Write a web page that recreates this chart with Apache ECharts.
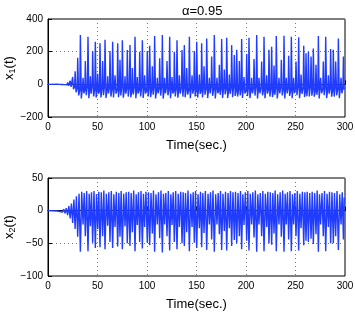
<!DOCTYPE html>
<html>
<head>
<meta charset="utf-8">
<script src="https://cdn.jsdelivr.net/npm/echarts@6/dist/echarts.min.js"></script>
<style>
html, body {margin: 0; padding: 0; background: #fff;}
#main {width: 355px; height: 313px;}
</style>
</head>
<body>
<div id="main"></div>
<script>
// time of each x1 peak (= time of each x2 low)
var peakTimes = [
    9.4, 12.0, 14.6, 17.2, 19.8, 22.4, 24.9, 27.4, 30.0,
    32.7, 35.4, 37.7, 40.4, 42.8, 45.1, 47.8, 50.2, 52.5, 55.2,
    57.6, 60.3, 62.6, 65.3, 67.7, 70.4, 72.7, 75.1, 77.8, 80.1,
    82.8, 85.2, 87.9, 90.2, 92.6, 95.3, 97.6, 100.3, 102.7, 105.4,
    107.7, 110.4, 112.8, 115.5, 117.8, 120.2, 122.9, 125.3, 127.6, 130.3,
    132.7, 135.4, 137.7, 140.1, 142.8, 145.5, 147.8, 150.2, 152.9, 155.2,
    157.6, 160.3, 163.0, 165.3, 168.0, 170.7, 173.1, 175.4, 178.1, 180.5,
    183.2, 185.5, 188.2, 190.6, 193.3, 195.6, 198.0, 200.7, 203.0, 205.7,
    208.1, 210.8, 213.1, 215.8, 218.2, 220.9, 223.2, 225.9, 228.3, 230.6,
    233.3, 235.7, 238.4, 240.7, 243.1, 245.8, 248.1, 250.5, 253.2, 255.6,
    258.3, 260.6, 263.0, 265.7, 268.0, 270.7, 273.1, 275.4, 278.1, 280.5,
    283.2, 285.5, 288.2, 290.6, 293.3, 296.0, 298.4
];
var x1Peaks = [
    1, 2, 4, 7, 12, 22, 45, 80, 163,
    302, 40, 143, 292, 50, 204, 261, 65, 251, 143,
    273, 50, 204, 261, 55, 251, 150, 270, 50, 210,
    240, 100, 292, 45, 200, 270, 55, 204, 236, 110,
    296, 40, 160, 302, 40, 143, 292, 45, 200, 270,
    55, 210, 240, 100, 292, 55, 204, 261, 60, 251,
    110, 280, 40, 170, 302, 40, 120, 277, 90, 285,
    60, 240, 180, 212, 143, 277, 45, 185, 285, 40,
    155, 302, 40, 140, 292, 55, 212, 230, 115, 296,
    40, 150, 298, 40, 175, 292, 40, 140, 288, 60,
    236, 190, 200, 170, 220, 120, 296, 40, 140, 292,
    55, 216, 212, 140, 280, 40, 170
];
// lowest point after each peak
var x1Troughs = [
    -1, -2, -3, -5, -9, -16, -30, -48, -68,
    -86, -55, -67, -85, -57, -74, -81, -58, -80, -67,
    -83, -56, -75, -81, -57, -79, -68, -82, -57, -75,
    -79, -62, -85, -56, -74, -83, -57, -74, -78, -63,
    -86, -55, -69, -87, -55, -67, -85, -56, -74, -82,
    -57, -75, -79, -62, -85, -57, -74, -81, -58, -80,
    -63, -84, -55, -70, -86, -55, -64, -83, -61, -84,
    -58, -79, -71, -75, -67, -83, -56, -72, -84, -55,
    -69, -86, -55, -67, -85, -57, -75, -78, -64, -86,
    -55, -68, -86, -55, -71, -85, -55, -67, -85, -58,
    -78, -73, -74, -70, -76, -64, -86, -55, -67, -85,
    -57, -76, -75, -67, -84, -55, -30
];
// level the signal recovers to before the next peak
var x1Rise = [
    -0.5, -1, -1.5, -2.5, -4, -8, -15, -25, -35,
    -20, -35, -10, -25, -5, -30, -15, -40, -20, -10,
    -30, -15, -25, -5, -35, -20, -10, -30, -20, -15,
    -40, -10, -25, -30, -5, -20, -35, -15, -25, -10,
    -30, -20, -5, -35, -15, -25, -10, -40, -20, -30,
    -15, -5, -25, -35, -10, -20, -30, -15, -40, -10,
    -25, -20, -5, -30, -15, -35, -20, -10, -25, -30,
    -15, -5, -40, -20, -25, -10, -35, -15, -30, -20,
    -5, -25, -15, -35, -10, -30, -20, -40, -15, -25,
    -10, -30, -5, -20, -35, -15, -25, -10, -30, -20,
    -40, -15, -5, -25, -35, -20, -10, -30, -15, -25,
    -20, -35, -10, -30, -15, -25, -20
];
var x2Lows = [
    -0.6, -1.2, -2.2, -4, -7, -12, -19, -28, -40,
    -63, -21, -39, -62, -24, -49, -57, -28, -56, -39,
    -59, -23, -48, -57, -25, -55, -40, -59, -24, -50,
    -54, -33, -62, -22, -48, -58, -25, -49, -53, -35,
    -63, -21, -42, -64, -21, -39, -61, -22, -48, -59,
    -25, -50, -54, -33, -62, -25, -49, -57, -27, -56,
    -34, -60, -21, -44, -63, -21, -36, -60, -31, -61,
    -27, -54, -45, -50, -39, -59, -22, -46, -61, -21,
    -41, -63, -21, -39, -62, -25, -50, -52, -35, -62,
    -21, -40, -63, -21, -44, -62, -21, -39, -61, -27,
    -53, -46, -48, -43, -51, -36, -63, -21, -39, -62,
    -25, -50, -50, -39, -60, -21, -44
];
var x2Highs = [
    0.6, 1.2, 2.2, 4, 7, 11, 17, 22, 26,
    29, 27, 30, 26, 28, 30, 25, 29, 28, 31,
    26, 28, 30, 25, 29, 27, 30, 26, 28, 29,
    27, 31, 25, 28, 30, 26, 29, 28, 27, 31,
    25, 28, 31, 26, 27, 30, 25, 28, 30, 26,
    29, 28, 27, 31, 26, 28, 30, 25, 29, 27,
    30, 26, 28, 31, 25, 27, 30, 26, 29, 27,
    30, 28, 29, 27, 30, 25, 28, 30, 26, 28,
    31, 25, 27, 30, 26, 29, 28, 27, 31, 25,
    28, 31, 26, 28, 30, 25, 27, 30, 26, 29,
    28, 29, 27, 29, 27, 31, 25, 27, 30, 26,
    29, 28, 27, 30, 25, 28, 20
];
var timeTicks = [0, 50, 100, 150, 200, 250, 300];
var x1Ticks = [-200, 0, 200, 400];
var x2Ticks = [-100, -50, 0, 50];

var tEnd = timeTicks[timeTicks.length - 1];
function gapAfter(i) {
    return (i + 1 < peakTimes.length ? peakTimes[i + 1] : tEnd) - peakTimes[i];
}

// x1: sharp spike, quick drop to the trough, slow recovery before the next spike
function x1Line() {
    var pts = [[0, 0]];
    for (var i = 0; i < peakTimes.length; i++) {
        var t = peakTimes[i], g = gapAfter(i);
        pts.push([t, x1Peaks[i]]);
        pts.push([t + g * 0.35, x1Troughs[i]]);
        pts.push([t + g * 0.8, x1Rise[i]]);
    }
    return pts;
}
// x2: low at each x1 peak, high half way to the next one
function x2Line() {
    var pts = [[0, 0]];
    for (var i = 0; i < peakTimes.length; i++) {
        var t = peakTimes[i], g = gapAfter(i);
        pts.push([t, x2Lows[i]]);
        pts.push([t + g * 0.5, x2Highs[i]]);
    }
    return pts;
}

var font = "'Liberation Sans', Arial, Helvetica, sans-serif";
var lineColor = '#1f3cff';
var chart = echarts.init(document.getElementById('main'));

function xAxis(idx) {
    return {
        type: 'value', gridIndex: idx, min: timeTicks[0], max: tEnd, interval: 50,
        name: 'Time(sec.)', nameLocation: 'middle', nameGap: 22, nameMoveOverlap: false,
        nameTextStyle: {color: '#000', fontSize: 13, fontFamily: font},
        axisLine: {lineStyle: {color: '#000', width: 1}},
        axisTick: {inside: true, length: 4, lineStyle: {color: '#000'}},
        axisLabel: {color: '#000', fontSize: 10, fontFamily: font, margin: 5},
        splitLine: {show: true, lineStyle: {type: [1, 3], color: '#777', width: 1}}
    };
}
function yAxis(idx, ticks, sub) {
    return {
        type: 'value', gridIndex: idx, min: ticks[0], max: ticks[ticks.length - 1], interval: ticks[1] - ticks[0],
        name: '{n|x}{s|' + sub + '}{n|(t)}', nameLocation: 'middle', nameGap: 31, nameMoveOverlap: false,
        nameTextStyle: {color: '#000', fontFamily: font, rich: {
            n: {fontSize: 13, fontFamily: font, color: '#000'},
            s: {fontSize: 9, fontFamily: font, color: '#000', padding: [7, 0, 0, 0]}
        }},
        axisLine: {lineStyle: {color: '#000', width: 1}},
        axisTick: {inside: true, length: 4, lineStyle: {color: '#000'}},
        axisLabel: {color: '#000', fontSize: 10, fontFamily: font, margin: 5,
            formatter: function(v) {return String(v).replace('-', '\u2212')}},
        splitLine: {show: true, lineStyle: {type: [1, 3], color: '#777', width: 1}}
    };
}

chart.setOption({
    animation: false,
    backgroundColor: '#fff',
    title: {text: '\u03b1=0.95', left: 177, top: 0,
        textStyle: {color: '#000', fontSize: 13, fontWeight: 'normal', fontFamily: font}},
    grid: [
        {left: 48, top: 19, width: 297, height: 98, show: true, borderColor: '#000', borderWidth: 1,
            containLabel: false, outerBoundsMode: 'none'},
        {left: 48, top: 178, width: 297, height: 98, show: true, borderColor: '#000', borderWidth: 1,
            containLabel: false, outerBoundsMode: 'none'}
    ],
    xAxis: [xAxis(0), xAxis(1)],
    yAxis: [yAxis(0, x1Ticks, 1), yAxis(1, x2Ticks, 2)],
    series: [
        {type: 'line', xAxisIndex: 0, yAxisIndex: 0, showSymbol: false,
            lineStyle: {color: lineColor, width: 1.4}, data: x1Line()},
        {type: 'line', xAxisIndex: 1, yAxisIndex: 1, showSymbol: false,
            lineStyle: {color: lineColor, width: 1.4}, data: x2Line()}
    ]
});
</script>
</body>
</html>
